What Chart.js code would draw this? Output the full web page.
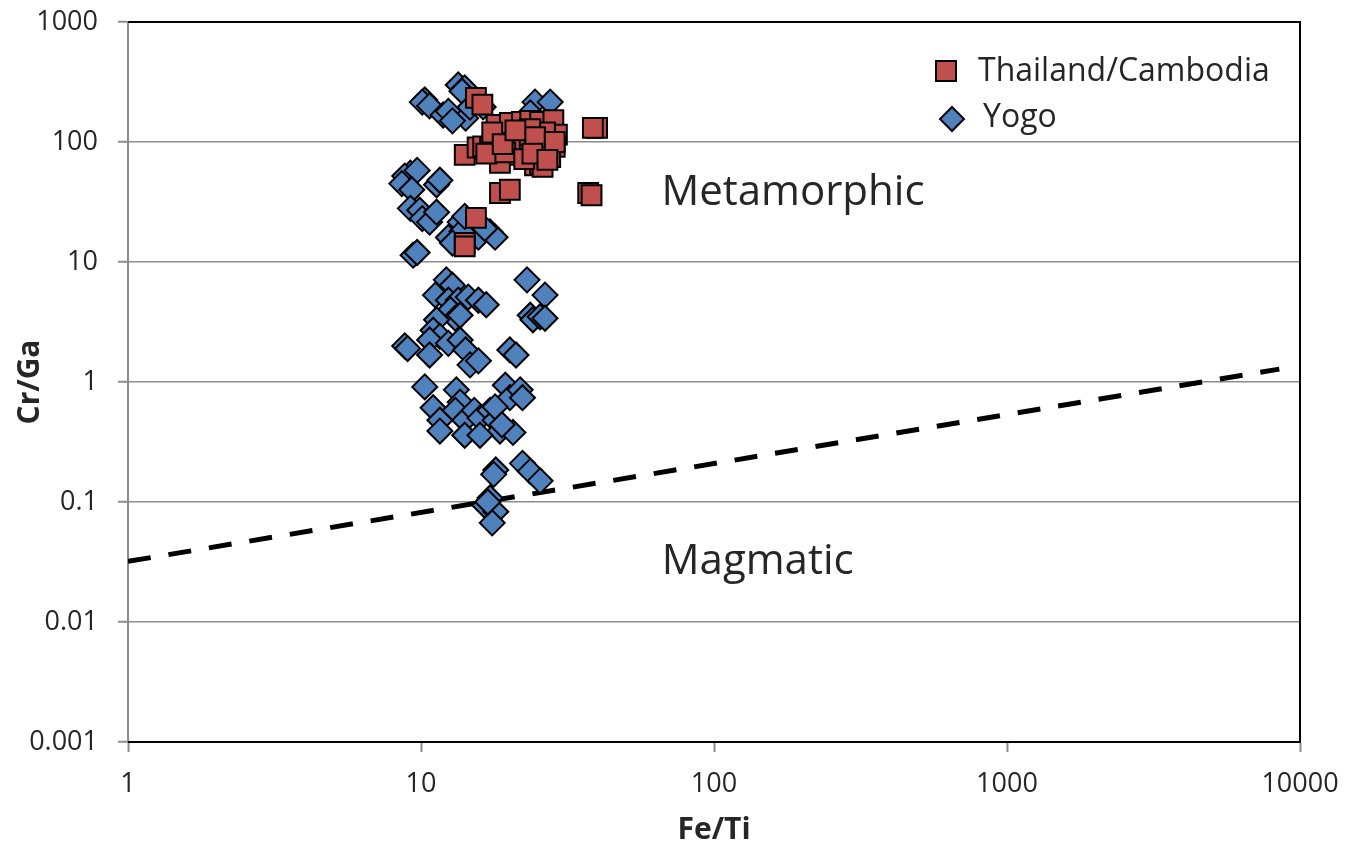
<!DOCTYPE html>
<html>
<head>
<meta charset="utf-8">
<script src="https://cdn.jsdelivr.net/npm/chart.js@4/dist/chart.umd.min.js"></script>
<style>
  html, body { margin: 0; padding: 0; background: #fff; }
  #wrap { width: 1359px; height: 855px; }
</style>
</head>
<body>
<div id="wrap"><canvas id="chart" width="1359" height="855"></canvas></div>
<script>
// Thailand/Cambodia samples (Fe/Ti, Cr/Ga)
const thaiFeTi = [15.4, 16.2, 14.1, 15.6, 16.3, 18.1, 18.1, 20.1, 22.1, 23.0, 22.1, 23.6, 25.5, 28.3, 29.1, 28.6, 25.5, 24.5, 26.5, 21.5,
                  18.6, 17.2, 16.7, 20.1, 25.5, 27.6, 26.5, 19.4, 23.6, 39.9, 38.6, 37.2, 38.2, 18.6, 20.1, 15.4, 14.1, 14.1, 24.5, 17.5,
                  26.0, 28.6, 22.5, 19.0, 24.0, 21.0, 27.0];
const thaiCrGa = [233, 205, 78, 90, 92, 139, 104, 144, 147, 86, 108, 150, 147, 152, 115, 91, 71, 64, 98, 78,
                  67, 89, 80, 98, 65, 75, 120, 82, 128, 131, 131, 37.6, 36, 37.6, 40, 23.3, 14.4, 13.5, 110, 120,
                  62, 100, 72, 96, 80, 125, 71];

// Yogo samples (Fe/Ti, Cr/Ga)
const yogoFeTi = [10.3, 10.1, 10.7, 11.9, 12.4, 13.4, 14.1, 13.8, 14.2, 12.8, 14.7, 16.3, 24.5, 27.6, 23.6,
                  9.2, 8.8, 9.7, 8.6, 9.3, 9.2, 9.9, 10.1, 10.7, 11.3, 11.6, 11.3, 9.4, 9.7, 12.4, 13.6, 14.7, 15.7, 17.2, 17.9, 13.8, 12.8, 14.1, 16.5,
                  23.0, 26.5, 23.6, 24.1, 25.5, 26.5, 12.2, 12.8, 11.2, 12.4, 13.4, 14.5, 15.7, 16.7, 12.6, 13.1, 13.6, 11.3, 11.0, 11.6, 8.8, 9.0,
                  10.7, 12.4, 13.6, 14.2, 14.7, 15.7, 20.1, 21.1, 10.7,
                  10.3, 11.0, 11.6, 11.6, 13.2, 13.6, 13.1, 14.1, 14.1, 15.2, 15.9, 17.2, 17.9, 18.6, 15.9, 19.4, 20.1, 21.8, 22.2, 20.6, 17.9, 18.9,
                  18.0, 17.7, 22.2, 23.6, 25.5, 16.5, 17.2, 18.0, 17.5, 16.9];
const yogoCrGa = [224, 215, 200, 168, 180, 299, 282, 265, 158, 150, 195, 196, 215, 215, 175,
                  55, 52, 58, 45, 40, 28, 27, 23, 21.5, 44, 48, 26, 11.4, 12, 16, 21.5, 19.2, 16.1, 17.8, 16.1, 18, 14.4, 24, 19,
                  7.1, 5.3, 3.6, 3.3, 3.5, 3.4, 7.1, 6.4, 5.3, 4.8, 4.8, 5.1, 4.8, 4.4, 4.0, 3.4, 3.6, 3.3, 2.7, 2.4, 2.0, 1.9,
                  2.24, 2.1, 2.24, 1.85, 1.39, 1.5, 1.85, 1.68, 1.68,
                  0.91, 0.61, 0.48, 0.39, 0.86, 0.68, 0.58, 0.48, 0.36, 0.58, 0.5, 0.58, 0.48, 0.39, 0.36, 0.94, 0.74, 0.86, 0.74, 0.38, 0.62, 0.44,
                  0.185, 0.17, 0.21, 0.18, 0.15, 0.094, 0.108, 0.083, 0.067, 0.1];

// metamorphic / magmatic boundary
const boundaryFeTi = [1, 8500];
const boundaryCrGa = [0.032, 1.28];

const xTicks = [1, 10, 100, 1000, 10000];
const xTickLabels = ['1', '10', '100', '1000', '10000'];
const yTicks = [0.001, 0.01, 0.1, 1, 10, 100, 1000];
const yTickLabels = ['0.001', '0.01', '0.1', '1', '10', '100', '1000'];

const fieldLabels = ['Metamorphic', 'Magmatic'];
const fieldFeTi = [186, 141];
const fieldCrGa = [37.6, 0.0316];

function toPoints(xs, ys) {
    let pts = [];
    for (let i = 0; i < xs.length; i++) {
        pts.push({x: xs[i], y: ys[i]});
    }
    return pts;
}

const FONT = "'Open Sans', 'DejaVu Sans', sans-serif";
const TEXT = '#262626';
const AXIS_GRAY = '#8c8c8c';
const RED = '#c0504d';
const BLUE = '#4f81bd';

// border of the plot area, field names and the legend
const overlay = {
    id: 'overlay',
    afterDatasetsDraw(chart) {
        const ctx = chart.ctx;
        const a = chart.chartArea;
        const xs = chart.scales.x, ys = chart.scales.y;
        ctx.save();
        ctx.strokeStyle = '#000';
        ctx.lineWidth = 2;
        ctx.beginPath();
        ctx.moveTo(a.left, a.top);
        ctx.lineTo(a.right, a.top);
        ctx.lineTo(a.right, a.bottom);
        ctx.lineTo(a.left, a.bottom);
        ctx.stroke();

        ctx.fillStyle = TEXT;
        ctx.font = '42px ' + FONT;
        ctx.textAlign = 'center';
        ctx.textBaseline = 'middle';
        for (let i = 0; i < fieldLabels.length; i++) {
            ctx.fillText(fieldLabels[i], xs.getPixelForValue(fieldFeTi[i]), ys.getPixelForValue(fieldCrGa[i]));
        }

        // legend
        const lx = a.right - 354, ly = a.top + 49;
        ctx.lineWidth = 2;
        ctx.strokeStyle = '#000';
        ctx.fillStyle = RED;
        ctx.fillRect(lx - 10, ly - 10, 20, 20);
        ctx.strokeRect(lx - 10, ly - 10, 20, 20);
        ctx.fillStyle = BLUE;
        ctx.beginPath();
        ctx.moveTo(lx + 6, ly + 48 - 12);
        ctx.lineTo(lx + 18, ly + 48);
        ctx.lineTo(lx + 6, ly + 48 + 12);
        ctx.lineTo(lx - 6, ly + 48);
        ctx.closePath();
        ctx.fill();
        ctx.stroke();

        ctx.fillStyle = TEXT;
        ctx.font = '32px ' + FONT;
        ctx.textAlign = 'left';
        ctx.fillText(chart.data.datasets[0].label, lx + 32, ly + 1);
        ctx.fillText(chart.data.datasets[1].label, lx + 37, ly + 47);
        ctx.restore();
    }
};

const ctx = document.getElementById('chart').getContext('2d');
new Chart(ctx, {
    type: 'scatter',
    data: {
        datasets: [{
            label: 'Thailand/Cambodia',
            data: toPoints(thaiFeTi, thaiCrGa),
            pointStyle: 'rect',
            pointRadius: 14,
            backgroundColor: RED,
            borderColor: '#000',
            borderWidth: 2
        }, {
            label: 'Yogo',
            data: toPoints(yogoFeTi, yogoCrGa),
            pointStyle: 'rectRot',
            pointRadius: 12.5,
            backgroundColor: BLUE,
            borderColor: '#000',
            borderWidth: 2
        }, {
            label: 'boundary',
            data: toPoints(boundaryFeTi, boundaryCrGa),
            showLine: true,
            pointRadius: 0,
            borderColor: '#000',
            borderWidth: 5,
            borderDash: [23, 18]
        }]
    },
    options: {
        responsive: false,
        animation: false,
        events: [],
        layout: { autoPadding: false, padding: { left: 0, right: 59, top: 22, bottom: 0 } },
        plugins: {
            legend: { display: false },
            tooltip: { enabled: false }
        },
        scales: {
            x: {
                type: 'logarithmic',
                min: 1,
                max: 10000,
                afterBuildTicks: (s) => { s.ticks = xTicks.map(v => ({value: v})); },
                afterFit: (s) => { s.height = 113; s.paddingLeft = 0; s.paddingRight = 0; },
                ticks: {
                    callback: (v, i) => xTickLabels[i],
                    font: { family: FONT, size: 27 },
                    color: TEXT,
                    padding: 16,
                    maxRotation: 0
                },
                grid: { drawOnChartArea: false, tickLength: 10, tickColor: AXIS_GRAY, tickWidth: 2 },
                border: { color: AXIS_GRAY, width: 2 },
                title: {
                    display: true,
                    text: 'Fe/Ti',
                    font: { family: FONT, size: 30, weight: 'bold' },
                    color: TEXT,
                    padding: { top: 0, bottom: 7 }
                }
            },
            y: {
                type: 'logarithmic',
                min: 0.001,
                max: 1000,
                afterBuildTicks: (s) => { s.ticks = yTicks.map(v => ({value: v})); },
                afterFit: (s) => { s.width = 128; s.paddingTop = 0; s.paddingBottom = 0; },
                ticks: {
                    callback: (v, i) => yTickLabels[i],
                    font: { family: FONT, size: 27 },
                    color: TEXT,
                    padding: 20
                },
                grid: { color: AXIS_GRAY, lineWidth: 1.5, tickLength: 10, tickColor: AXIS_GRAY, tickWidth: 2 },
                border: { color: AXIS_GRAY, width: 2 },
                title: {
                    display: true,
                    text: 'Cr/Ga',
                    font: { family: FONT, size: 30, weight: 'bold' },
                    color: TEXT,
                    padding: { top: 12, bottom: 0 }
                }
            }
        }
    },
    plugins: [overlay]
});
</script>
</body>
</html>
